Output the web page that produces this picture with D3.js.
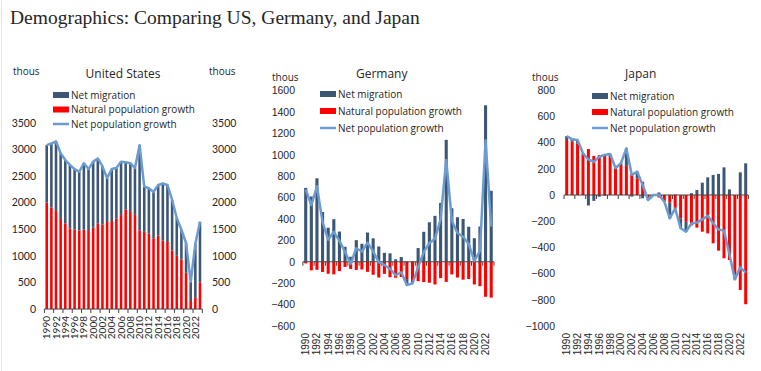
<!DOCTYPE html>
<html>
<head>
<meta charset="utf-8">
<script src="https://cdn.jsdelivr.net/npm/d3@7/dist/d3.min.js"></script>
<style>
  body { margin: 0; background: #fff; }
  svg text { fill: #262626; }
</style>
</head>
<body>
<div id="chart"></div>
<script>
// categories
const years = [1990, 1991, 1992, 1993, 1994, 1995, 1996, 1997, 1998, 1999,
  2000, 2001, 2002, 2003, 2004, 2005, 2006, 2007, 2008, 2009,
  2010, 2011, 2012, 2013, 2014, 2015, 2016, 2017, 2018, 2019,
  2020, 2021, 2022, 2023];
const labelYears = [1990, 1992, 1994, 1996, 1998, 2000, 2002, 2004, 2006, 2008,
  2010, 2012, 2014, 2016, 2018, 2020, 2022];
const seriesNames = ['Net migration', 'Natural population growth', 'Net population growth'];

// United States, thousands
const usNatural = [2000, 1910, 1840, 1690, 1610, 1510, 1495, 1475, 1495, 1465,
  1530, 1610, 1585, 1635, 1655, 1700, 1765, 1870, 1840, 1770,
  1470, 1450, 1420, 1330, 1380, 1290, 1260, 1100, 1000, 930,
  680, 150, 210, 500];
const usMigration = [1080, 1200, 1310, 1240, 1190, 1200, 1135, 1105, 1245, 1165,
  1240, 1220, 1095, 825, 975, 950, 1005, 890, 900, 880,
  1610, 850, 850, 870, 950, 1070, 1070, 950, 710, 560,
  560, 360, 1010, 1140];
const usNet = [3080, 3110, 3150, 2930, 2800, 2710, 2630, 2580, 2740, 2630,
  2770, 2830, 2680, 2460, 2630, 2650, 2770, 2760, 2740, 2650,
  3080, 2300, 2270, 2200, 2330, 2360, 2330, 2050, 1710, 1490,
  1240, 510, 1220, 1640];
const usTicks = [0, 500, 1000, 1500, 2000, 2500, 3000, 3500];

// Germany, thousands
const deMigration = [690, 610, 780, 465, 318, 398, 282, 140, 47, 202,
  168, 273, 219, 143, 83, 79, 23, 44, -56, -13,
  128, 280, 369, 429, 550, 1139, 500, 416, 400, 327,
  220, 329, 1462, 663];
const deNatural = [-15, -80, -75, -95, -112, -118, -87, -48, -67, -76,
  -72, -94, -122, -147, -113, -144, -149, -142, -162, -189,
  -181, -190, -196, -212, -153, -188, -118, -147, -167, -161,
  -212, -228, -327, -335];
const deNet = [675, 530, 705, 370, 206, 280, 195, 92, -20, 126,
  96, 179, 97, -4, -30, -65, -126, -98, -218, -202,
  -53, 90, 173, 217, 397, 951, 382, 269, 233, 166,
  8, 101, 1135, 328];
const deTicks = [-600, -400, -200, 0, 200, 400, 600, 800, 1000, 1200, 1400, 1600];

// Japan, thousands
const jpNatural = [420, 407, 394, 305, 351, 298, 305, 310, 305, 204,
  229, 221, 165, 127, 101, -20, 2, -19, -51, -59,
  -105, -180, -205, -232, -249, -280, -293, -369, -425, -483,
  -496, -609, -725, -834];
const jpMigration = [30, 18, 26, 13, -80, -45, -13, -5, 8, 2,
  13, 135, -12, 51, -25, -18, -2, 19, 0, -119,
  3, -74, -75, 14, 38, 94, 135, 153, 161, 211,
  43, -35, 173, 242];
const jpNet = [450, 425, 420, 318, 271, 253, 292, 305, 313, 206,
  242, 356, 153, 178, 76, -38, 0, 0, -51, -178,
  -102, -254, -280, -218, -211, -186, -158, -216, -264, -272,
  -453, -644, -552, -592];
const jpTicks = [-1000, -800, -600, -400, -200, 0, 200, 400, 600, 800];

const colMig = '#3c5675', colNat = '#ff0000', colLine = '#6b9bcf';

const svg = d3.select('#chart').append('svg')
  .attr('width', 761).attr('height', 371);

svg.append('line')
  .attr('x1', 1.5).attr('x2', 1.5).attr('y1', 0).attr('y2', 371)
  .attr('stroke', '#e4e4e4');

svg.append('text')
  .attr('x', 10).attr('y', 24)
  .style('font-family', '"Liberation Serif", serif')
  .style('font-size', '19.5px')
  .text('Demographics: Comparing US, Germany, and Japan');

const panels = [
  { title: 'United States', titleX: 123, natural: usNatural, migration: usMigration, net: usNet,
    ticks: usTicks, domain: [0, 3500], yRange: [309, 122.8], xRange: [44.4, 202.3],
    rightAxis: true, unitL: [13, 75], unitR: [209, 75], labelY: 309, tickFont: 'Lato',
    legend: { x: 53, y: 95, dy: 14.5 } },
  { title: 'Germany', titleX: 381.7, natural: deNatural, migration: deMigration, net: deNet,
    ticks: deTicks, domain: [-600, 1600], yRange: [326, 90.5], xRange: [302.9, 494],
    rightAxis: false, unitL: [272, 80.5], labelY: 326, tickFont: '"Liberation Sans"',
    legend: { x: 320, y: 94, dy: 17 } },
  { title: 'Japan', titleX: 640.7, natural: jpNatural, migration: jpMigration, net: jpNet,
    ticks: jpTicks, domain: [-1000, 800], yRange: [326, 90.2], xRange: [564, 748.4],
    rightAxis: false, unitL: [532, 80.5], labelY: 326, tickFont: '"Liberation Sans"',
    legend: { x: 592, y: 96, dy: 16 } }
];

panels.forEach(p => {
  const g = svg.append('g');

  const x = d3.scaleBand().domain(years).range(p.xRange)
    .paddingInner(0.45).paddingOuter(0.225);
  const step = x.step();
  const y = d3.scaleLinear().domain(p.domain).range(p.yRange);

  // stacked bars, natural growth next to the axis
  const rows = years.map((yr, i) => ({ year: yr, natural: p.natural[i], migration: p.migration[i] }));
  const stacked = d3.stack().keys(['natural', 'migration'])
    .offset(d3.stackOffsetDiverging)(rows);

  g.selectAll('g.series')
    .data(stacked)
    .join('g')
    .attr('fill', d => d.key === 'natural' ? colNat : colMig)
    .selectAll('rect')
    .data(d => d)
    .join('rect')
    .attr('x', d => x(d.data.year))
    .attr('width', x.bandwidth())
    .attr('y', d => Math.min(y(d[0]), y(d[1])))
    .attr('height', d => Math.abs(y(d[0]) - y(d[1])));

  // category axis on zero line
  const axisG = g.append('g').attr('transform', `translate(0,${y(0)})`);
  axisG.append('line')
    .attr('x1', p.xRange[0]).attr('x2', p.xRange[1])
    .attr('stroke', '#404040');
  axisG.selectAll('line.tk')
    .data(labelYears.concat([null]))
    .join('line')
    .attr('class', 'tk')
    .attr('x1', d => d === null ? p.xRange[1] : x(d) - (step - x.bandwidth()) / 2)
    .attr('x2', d => d === null ? p.xRange[1] : x(d) - (step - x.bandwidth()) / 2)
    .attr('y1', 0).attr('y2', 4)
    .attr('stroke', '#404040');

  // year labels
  const xAxis = g.append('g')
    .attr('transform', `translate(0,${p.labelY})`)
    .call(d3.axisBottom(x).tickValues(labelYears).tickSize(0));
  xAxis.select('.domain').remove();
  xAxis.selectAll('text')
    .attr('transform', 'rotate(-90)')
    .attr('x', -7).attr('y', 0).attr('dy', '0.35em')
    .style('text-anchor', 'end')
    .style('font-family', p.tickFont)
    .style('font-size', '10px')
    .style('fill', '#262626');

  // value axes
  const yAxis = g.append('g')
    .attr('transform', `translate(${p.unitL[0] + 23},0)`)
    .call(d3.axisLeft(y).tickValues(p.ticks).tickSize(0).tickPadding(0).tickFormat(d3.format('d')));
  yAxis.select('.domain').remove();
  yAxis.selectAll('text')
    .style('font-family', p.tickFont).style('font-size', '10.5px').style('fill', '#262626');

  if (p.rightAxis) {
    const yR = g.append('g')
      .attr('transform', 'translate(212,0)')
      .call(d3.axisRight(y).tickValues(p.ticks).tickSize(0).tickPadding(0).tickFormat(d3.format('d')));
    yR.select('.domain').remove();
    yR.selectAll('text')
      .style('font-family', p.tickFont).style('font-size', '10.5px').style('fill', '#262626');
    g.append('text').attr('x', p.unitR[0]).attr('y', p.unitR[1])
      .style('font-family', '"Open Sans"').style('font-size', '10px').text('thous');
  }

  g.append('text').attr('x', p.unitL[0]).attr('y', p.unitL[1])
    .style('font-family', '"Open Sans"').style('font-size', '10px').text('thous');

  g.append('text').attr('x', p.titleX).attr('y', 78)
    .attr('text-anchor', 'middle')
    .style('font-family', '"Open Sans"').style('font-size', '12px')
    .text(p.title);

  // net growth line
  const line = d3.line()
    .x((d, i) => x(years[i]) + x.bandwidth() / 2)
    .y(d => y(d));
  g.append('path')
    .datum(p.net)
    .attr('fill', 'none')
    .attr('stroke', colLine)
    .attr('stroke-width', 2.5)
    .attr('stroke-linejoin', 'round')
    .attr('d', line);

  // legend
  const lg = g.append('g').attr('transform', `translate(${p.legend.x},${p.legend.y})`);
  seriesNames.forEach((name, i) => {
    const row = lg.append('g').attr('transform', `translate(0,${i * p.legend.dy})`);
    if (i < 2) {
      row.append('rect').attr('x', 0).attr('y', -3).attr('width', 16).attr('height', 6)
        .attr('fill', i === 0 ? colMig : colNat);
    } else {
      row.append('line').attr('x1', 0).attr('x2', 16)
        .attr('stroke', colLine).attr('stroke-width', 2.5);
    }
    row.append('text').attr('x', 18).attr('dy', '0.35em')
      .style('font-family', '"Open Sans"').style('font-size', '10px')
      .text(name);
  });
});
</script>
</body>
</html>
